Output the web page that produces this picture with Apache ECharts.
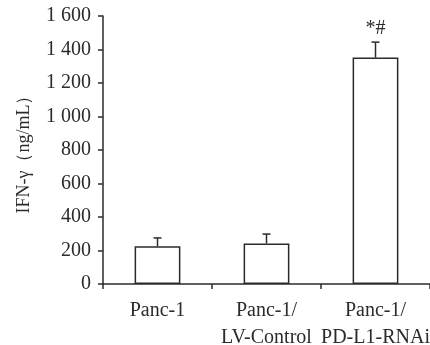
<!DOCTYPE html>
<html>
<head>
<meta charset="utf-8">
<script src="https://cdn.jsdelivr.net/npm/echarts@6/dist/echarts.min.js"></script>
<style>
  html, body { margin: 0; padding: 0; background: #fff; }
  #chart { width: 430px; height: 345px; }
</style>
</head>
<body>
<div id="chart"></div>
<script>
// values
const categories = ["Panc-1", "Panc-1/\nLV-Control", "Panc-1/\nPD-L1-RNAi"];
const means = [225, 242, 1352];
const errors = [50, 56, 92];
const marks = ["", "", "*#"];
const yTicks = { min: 0, max: 1600, interval: 200 };

const LINE = "#2b2b2b";
const FONT = "'Liberation Serif', 'Times New Roman', serif";

const chart = echarts.init(document.getElementById("chart"));

// 천 단위 공백
const fmtThousands = (v) => String(v).replace(/\B(?=(\d{3})+(?!\d))/g, " ");

const option = {
  animation: false,
  grid: { left: 103, right: 0, top: 16, bottom: 61, containLabel: false, outerBoundsMode: "none" },
  xAxis: {
    type: "category",
    data: categories,
    axisLine: { lineStyle: { color: LINE, width: 1.5 } },
    axisTick: { show: true, length: 5, lineStyle: { color: LINE, width: 1.5 } },
    axisLabel: {
      color: LINE,
      fontFamily: FONT,
      fontSize: 20,
      lineHeight: 27,
      margin: 13,
      interval: 0,
    },
  },
  yAxis: {
    type: "value",
    min: yTicks.min,
    max: yTicks.max,
    interval: yTicks.interval,
    name: "IFN-γ（ng/mL）",
    nameLocation: "middle",
    nameGap: 70,
    nameTextStyle: { color: LINE, fontFamily: FONT, fontSize: 18 },
    axisLine: { show: true, lineStyle: { color: LINE, width: 1.5 } },
    axisTick: { show: true, length: 5, lineStyle: { color: LINE, width: 1.5 } },
    splitLine: { show: false },
    axisLabel: {
      color: LINE,
      fontFamily: FONT,
      fontSize: 20,
      margin: 12,
      formatter: fmtThousands,
    },
  },
  series: [
    {
      type: "bar",
      data: means,
      barWidth: "42%",
      itemStyle: { color: "#fff", borderColor: LINE, borderWidth: 1.5 },
    },
    {
      type: "custom",
      data: means.map((m, i) => [i, m, m + errors[i], marks[i]]),
      renderItem: (params, api) => {
        const base = api.coord([api.value(0), api.value(1)]);
        const top = api.coord([api.value(0), api.value(2)]);
        const cap = 4;
        const children = [
          { type: "line", shape: { x1: base[0], y1: base[1], x2: top[0], y2: top[1] },
            style: { stroke: LINE, lineWidth: 1.5 } },
          { type: "line", shape: { x1: top[0] - cap, y1: top[1], x2: top[0] + cap, y2: top[1] },
            style: { stroke: LINE, lineWidth: 1.5 } },
        ];
        const txt = marks[params.dataIndex];
        if (txt) {
          children.push({
            type: "text",
            style: {
              text: txt, x: top[0], y: top[1] - 3,
              align: "center", verticalAlign: "bottom",
              fill: LINE, font: "20px " + FONT,
            },
          });
        }
        return { type: "group", children };
      },
      z: 3,
    },
  ],
};

chart.setOption(option);
window.addEventListener("resize", () => chart.resize());
</script>
</body>
</html>
